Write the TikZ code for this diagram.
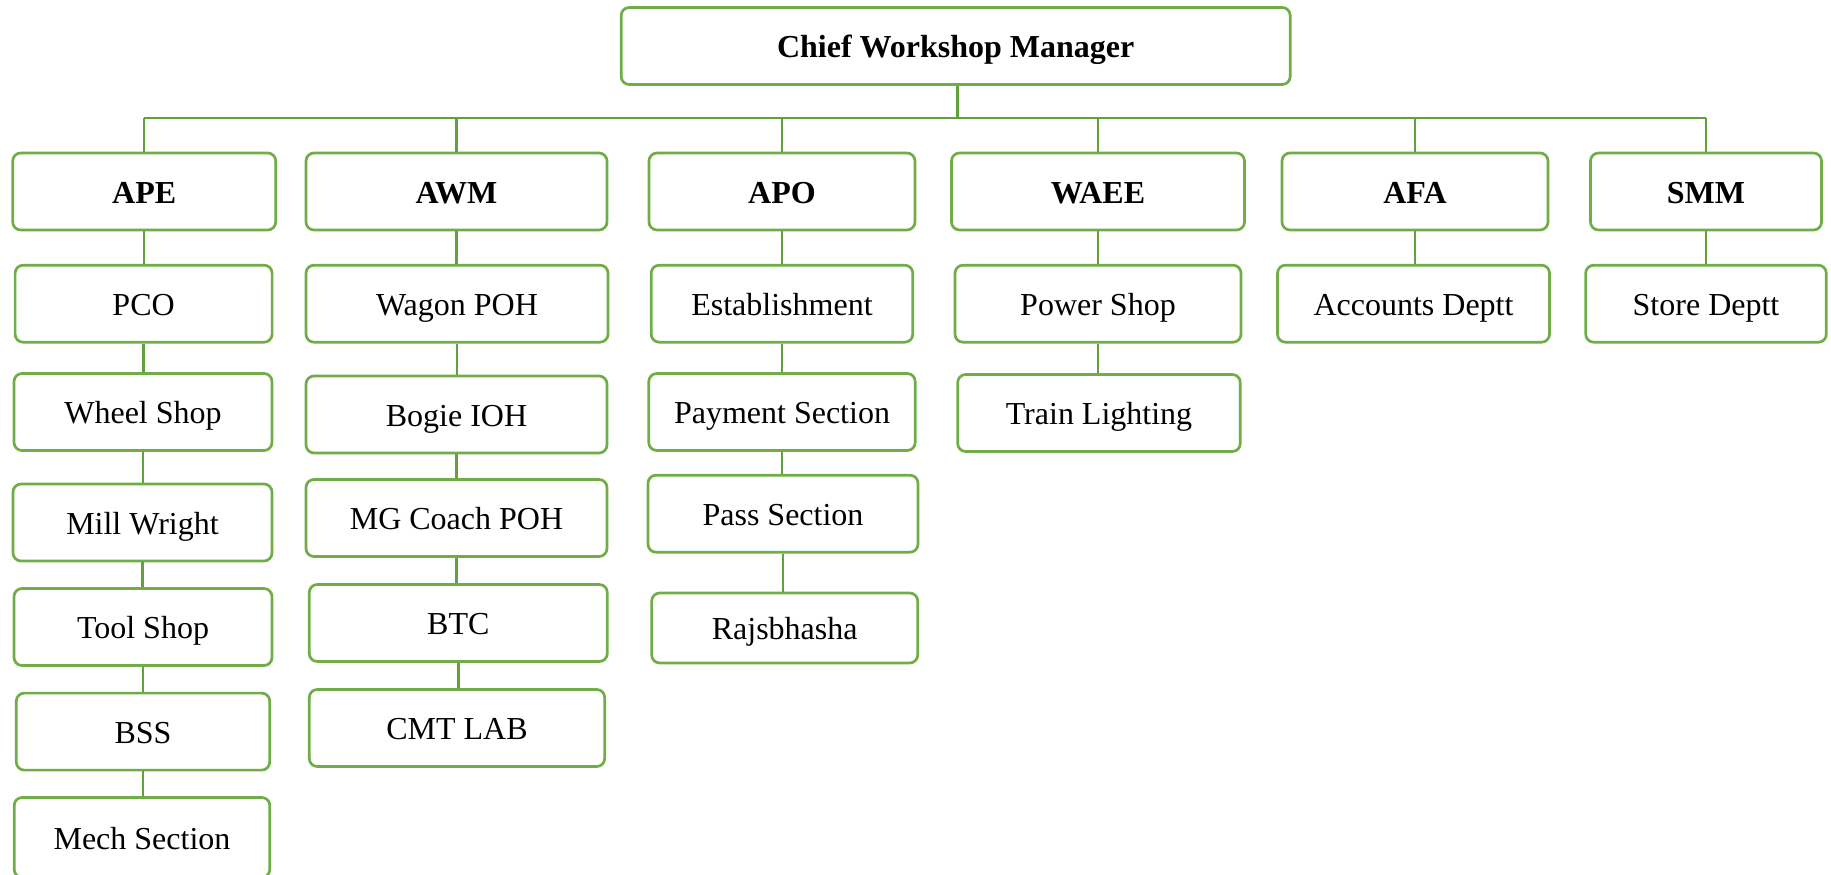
\documentclass[tikz,border=0pt]{standalone}
\usepackage{fontspec}
\setmainfont{Liberation Serif}
\definecolor{boxgreen}{HTML}{70AD47}
\definecolor{linegreen}{HTML}{62A03E}
\begin{document}
\begin{tikzpicture}[x=0.5pt,y=-0.5pt,
  box/.style={draw=boxgreen, line width=1.35pt, rounded corners=4pt, fill=white,
    inner sep=0pt, minimum height=38.5pt, text height=13.5pt, text depth=2pt,
    font=\fontsize{16}{19}\selectfont},
  head/.style={box, font=\fontsize{16}{19}\selectfont\bfseries},
  link/.style={draw=linegreen, line width=1.2pt}]
\useasboundingbox (0,0) rectangle (1831,874);
\clip (0,0) rectangle (1831,874);
% top
\node[head, minimum width=334.5pt] (cwm) at (955.7,46) {Chief Workshop Manager};
% level 1
\node[head, minimum width=131.5pt] (ape) at (144.2,191.5) {APE};
\node[head, minimum width=150.5pt] (awm) at (456.5,191.5) {AWM};
\node[head, minimum width=133pt] (apo) at (782,191.5) {APO};
\node[head, minimum width=146.5pt] (waee) at (1098,191.5) {WAEE};
\node[head, minimum width=133pt] (afa) at (1415,191.5) {AFA};
\node[head, minimum width=115.5pt] (smm) at (1706,191.5) {SMM};
% APE column
\node[box, minimum width=128.5pt] (pco) at (143.6,303.7) {PCO};
\node[box, minimum width=129pt] (wheel) at (143,412) {Wheel Shop};
\node[box, minimum width=129.5pt] (mill) at (142.5,522.5) {Mill Wright};
\node[box, minimum width=129pt] (tool) at (143,627) {Tool Shop};
\node[box, minimum width=126.7pt] (bss) at (143,731.6) {BSS};
\node[box, minimum width=127.8pt, minimum height=40pt] (mech) at (142,837.5) {Mech Section};
% AWM column
\node[box, minimum width=151pt] (wagon) at (457,303.7) {Wagon POH};
\node[box, minimum width=150.5pt] (bogie) at (456.5,414.5) {Bogie IOH};
\node[box, minimum width=150.5pt] (mgc) at (456.5,518) {MG Coach POH};
\node[box, minimum width=149pt] (btc) at (458.3,623) {BTC};
\node[box, minimum width=147.7pt] (cmt) at (457,728) {CMT LAB};
% APO column
\node[box, minimum width=130.8pt] (est) at (782,303.7) {Establishment};
\node[box, minimum width=133.2pt] (pay) at (782,412) {Payment Section};
\node[box, minimum width=135pt] (pass) at (783,513.7) {Pass Section};
\node[box, minimum width=133pt, minimum height=35pt] (raj) at (784.7,628) {Rajsbhasha};
% WAEE column
\node[box, minimum width=143pt] (power) at (1098,303.7) {Power Shop};
\node[box, minimum width=141.3pt] (train) at (1099,413) {Train Lighting};
% AFA, SMM
\node[box, minimum width=136pt] (acc) at (1413.5,303.7) {Accounts Deptt};
\node[box, minimum width=120.3pt] (store) at (1706,303.7) {Store Deptt};
% bus
\coordinate (bus) at (957.5,118);
\coordinate (busl) at (144.2,118);
\coordinate (busr) at (1706,118);
\path[link] (cwm.south -| bus) -- (bus);
\path[link] (busl) -- (busr);
\foreach \n in {ape,awm,apo,waee,afa,smm}{
  \path[link] (\n.north |- bus) -- (\n.north);
}
% column links
\foreach \a/\b in {ape/pco,pco/wheel,wheel/mill,mill/tool,tool/bss,bss/mech,
  awm/wagon,wagon/bogie,bogie/mgc,mgc/btc,btc/cmt,
  apo/est,est/pay,pay/pass,pass/raj,
  waee/power,power/train,afa/acc,smm/store}{
  \path[link] (\a.south) -- (\a.south |- \b.north);
}
\end{tikzpicture}
\end{document}
